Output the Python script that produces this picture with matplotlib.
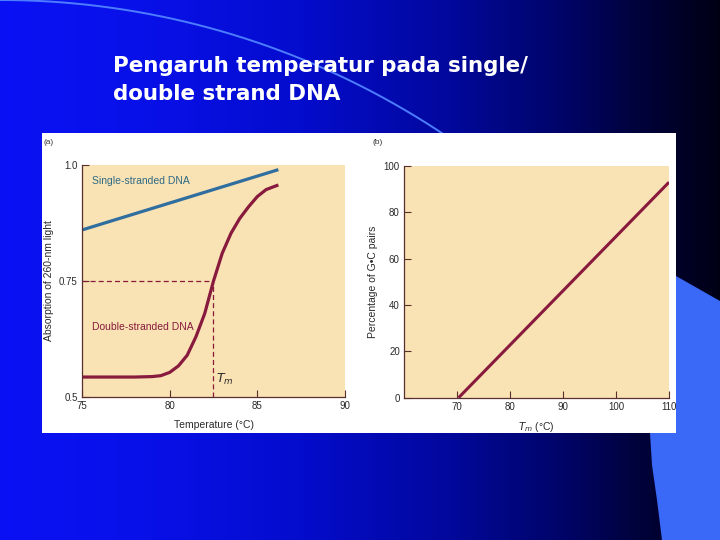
import numpy as np
import matplotlib
matplotlib.use("Agg")
import matplotlib.pyplot as plt
from matplotlib.patches import Rectangle, Polygon

# ---------------- data ----------------
title_lines = ["Pengaruh temperatur pada single/", "double strand DNA"]

ss_temp = [75.0, 86.2]
ss_abs = [0.86, 0.99]

ds_temp = [75.0, 76.0, 77.0, 78.0, 79.0, 79.5, 80.0, 80.5, 81.0, 81.5, 82.0,
           82.5, 83.0, 83.5, 84.0, 84.5, 85.0, 85.5, 86.2]
ds_abs = [0.543, 0.543, 0.543, 0.543, 0.544, 0.546, 0.553, 0.567, 0.590, 0.630,
          0.680, 0.750, 0.810, 0.853, 0.885, 0.910, 0.932, 0.947, 0.957]

tm_value = 82.5
half_abs = 0.75

a_xticks = [75, 80, 85, 90]
a_yticks = [0.5, 0.75, 1.0]
a_yticklabels = ["0.5", "0.75", "1.0"]

b_tm = [70.3, 110.0]
b_gc = [0.0, 93.0]
b_xticks = [70, 80, 90, 100, 110]
b_yticks = [0, 20, 40, 60, 80, 100]

# ---------------- figure ----------------
W, H = 720, 540
fig = plt.figure(figsize=(7.2, 5.4), dpi=100)

# background (slide)
bg = fig.add_axes([0, 0, 1, 1])
bg.set_xlim(0, W)
bg.set_ylim(H, 0)
bg.axis("off")
xs = np.array([0, 150, 300, 450, 560, 640, 720], float)
cr = np.array([10, 8, 4, 2, 0, 0, 0], float)
cg = np.array([18, 16, 12, 8, 4, 2, 0], float)
cb = np.array([245, 232, 205, 155, 105, 58, 20], float)
xx = np.arange(W)
grad = np.stack([np.interp(xx, xs, cr), np.interp(xx, xs, cg), np.interp(xx, xs, cb)], -1) / 255.0
img = np.repeat(grad[None, :, :], 2, axis=0)
bg.imshow(img, extent=(0, W, H, 0), aspect="auto", zorder=0)

# decorative arc
R = 800.0
t = np.linspace(0, 0.62, 200)
bg.plot(R * np.sin(t), R - R * np.cos(t), color="#4d7dff", lw=1.4, zorder=1)

# light blue shape at bottom right
bg.add_patch(Polygon([(676, 276), (720, 301), (720, 540), (662, 540), (657, 500),
                      (652, 465), (650, 433), (650, 276)],
                     closed=True, facecolor="#3a68f7", edgecolor="none", zorder=2))

# white panel
bg.add_patch(Rectangle((42, 133), 634, 300, facecolor="white", edgecolor="none", zorder=3))

# title
fig.text(113 / W, 1 - 72 / H, title_lines[0], color="white", fontsize=15.4,
         fontweight="bold", family="DejaVu Sans", va="baseline", ha="left")
fig.text(113 / W, 1 - 99.5 / H, title_lines[1], color="white", fontsize=15.4,
         fontweight="bold", family="DejaVu Sans", va="baseline", ha="left")

# panel labels
fig.text(44 / W, 1 - 142 / H, "(a)", fontsize=6, color="#333333", family="Liberation Sans", va="center")
fig.text(372 / W, 1 - 142 / H, "(b)", fontsize=6, color="#333333", family="Liberation Sans", va="center")

BEIGE = "#f9e2b3"
SPINE = "#5a2f2f"
MAROON = "#881a3e"
BLUE = "#2f6e9f"
TXT = "#2a2a2a"
FONT = "Liberation Sans"


def style(ax):
    ax.set_facecolor(BEIGE)
    for s in ("top", "right"):
        ax.spines[s].set_visible(False)
    for s in ("left", "bottom"):
        ax.spines[s].set_color(SPINE)
        ax.spines[s].set_linewidth(0.9)
    ax.tick_params(direction="in", length=5, width=0.8, color=SPINE,
                   labelsize=7, labelcolor=TXT, pad=3)
    for lab in ax.get_xticklabels() + ax.get_yticklabels():
        lab.set_family(FONT)


# ---- panel (a)
ax1 = fig.add_axes([82 / W, 1 - 397 / H, 263 / W, 232 / H])
ax1.plot(ss_temp, ss_abs, color=BLUE, lw=2.3, solid_capstyle="butt")
ax1.plot(ds_temp, ds_abs, color=MAROON, lw=2.3, solid_capstyle="butt")
ax1.plot([75, tm_value], [half_abs, half_abs], color=MAROON, lw=0.9, ls=(0, (4, 2.5)))
ax1.plot([tm_value, tm_value], [0.5, half_abs], color=MAROON, lw=0.9, ls=(0, (4, 2.5)))
ax1.set_xlim(75, 90)
ax1.set_ylim(0.5, 1.0)
ax1.set_xticks(a_xticks)
ax1.set_yticks(a_yticks)
ax1.set_yticklabels(a_yticklabels)
style(ax1)
ax1.text(75.55, 0.965, "Single-stranded DNA", color="#2d6a86", fontsize=7.5, family=FONT, va="center")
ax1.text(75.55, 0.651, "Double-stranded DNA", color=MAROON, fontsize=7.5, family=FONT, va="center")
ax1.text(82.65, 0.537, "$T_m$", color=TXT, fontsize=9, va="center")
ax1.set_xlabel("Temperature (°C)", fontsize=7.5, family=FONT, color=TXT, labelpad=6)
ax1.set_ylabel("Absorption of 260-nm light", fontsize=7.5, family=FONT, color=TXT, labelpad=4)

# ---- panel (b)
ax2 = fig.add_axes([404 / W, 1 - 397.7 / H, 265 / W, 231.7 / H])
ax2.plot(b_tm, b_gc, color=MAROON, lw=2.2, solid_capstyle="butt")
ax2.set_xlim(60, 110)
ax2.set_ylim(0, 100)
ax2.set_xticks(b_xticks)
ax2.set_yticks(b_yticks)
style(ax2)
ax2.set_xlabel("$T_m$ (°C)", fontsize=7.5, family=FONT, color=TXT, labelpad=6)
ax2.set_ylabel("Percentage of G•C pairs", fontsize=7.5, family=FONT, color=TXT, labelpad=4)

fig.savefig("out.png", dpi=100)
